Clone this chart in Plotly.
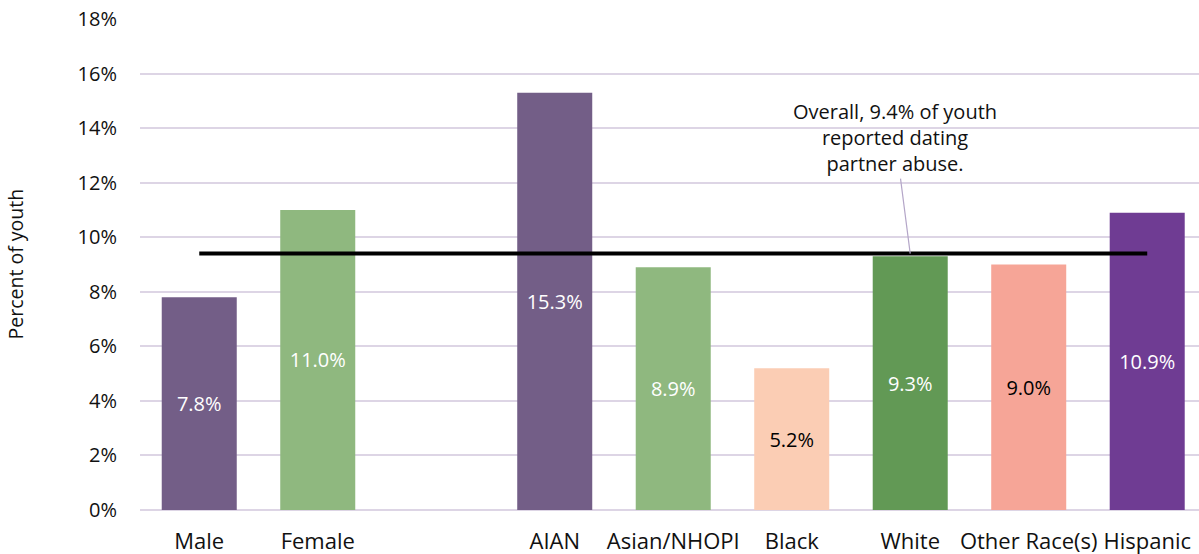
import plotly.graph_objects as go

# data
categories = ["Male", "Female", " ", "AIAN", "Asian/NHOPI", "Black", "White", "Other Race(s)", "Hispanic"]
pct_values = [7.8, 11.0, None, 15.3, 8.9, 5.2, 9.3, 9.0, 10.9]
bar_colors = ["#735e87", "#8fb87f", "#ffffff", "#735e87", "#8fb87f", "#fbcdb4", "#629955", "#f6a597", "#6f3c93"]
label_colors = ["white", "white", "white", "white", "white", "black", "white", "black", "white"]
overall_pct = 9.4
overall_note = "Overall, 9.4% of youth<br>reported dating<br>partner abuse."

FONT = "Open Sans"

fig = go.Figure()

fig.add_trace(
    go.Bar(
        x=categories,
        y=pct_values,
        marker=dict(color=bar_colors, line=dict(width=0)),
        width=0.633,
        text=[f"{v:.1f}%" if v is not None else "" for v in pct_values],
        textposition="inside",
        insidetextanchor="middle",
        textfont=dict(family=FONT, size=20, color=label_colors),
        textangle=0,
        hoverinfo="skip",
        showlegend=False,
    )
)

# overall reference line, from first to last group
fig.add_trace(
    go.Scatter(
        x=[categories[0], categories[-1]],
        y=[overall_pct, overall_pct],
        mode="lines",
        line=dict(color="black", width=4),
        hoverinfo="skip",
        showlegend=False,
    )
)

fig.add_annotation(
    x="White",
    y=overall_pct,
    xref="x",
    yref="y",
    text=overall_note,
    showarrow=True,
    arrowhead=0,
    arrowwidth=1.2,
    arrowcolor="#b4a6c8",
    ax=-15,
    ay=-116,
    font=dict(family=FONT, size=20, color="#111111"),
    align="center",
)

fig.add_annotation(
    text="Percent of youth",
    xref="paper",
    yref="paper",
    x=0,
    y=0.5,
    xanchor="center",
    yanchor="middle",
    xshift=-125,
    textangle=-90,
    showarrow=False,
    font=dict(family=FONT, size=19.5, color="#111111"),
)

fig.update_layout(
    width=1199,
    height=554,
    margin=dict(l=140, r=0, t=19, b=44),
    paper_bgcolor="white",
    plot_bgcolor="white",
    xaxis=dict(
        type="category",
        categoryorder="array",
        categoryarray=categories,
        range=[-0.5, 8.437],
        showgrid=False,
        showline=False,
        ticks="",
        tickfont=dict(family=FONT, size=22, color="#111111"),
        ticklabelstandoff=16,
    ),
    yaxis=dict(
        range=[0, 18],
        dtick=2,
        ticksuffix="%",
        showgrid=True,
        gridcolor="#ddd5e5",
        gridwidth=1.5,
        zeroline=True,
        zerolinecolor="#ddd5e5",
        zerolinewidth=2,
        showline=False,
        ticks="",
        tickfont=dict(family=FONT, size=20, color="#111111"),
        ticklabelstandoff=22,
    ),
)

fig.write_html(
    "out.html",
    config={"displayModeBar": False},
    post_script="document.body.style.margin='0';",
)
